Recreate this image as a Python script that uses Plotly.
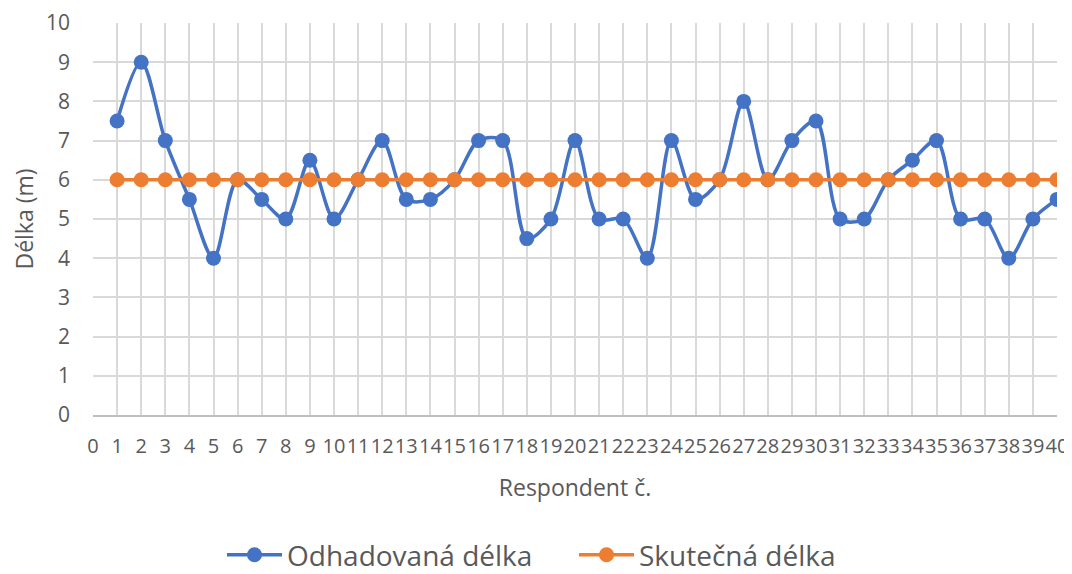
import plotly.graph_objects as go

respondents = list(range(1, 41))
odhadovana = [7.5, 9, 7, 5.5, 4, 6, 5.5, 5, 6.5, 5,
              6, 7, 5.5, 5.5, 6, 7, 7, 4.5, 5, 7,
              5, 5, 4, 7, 5.5, 6, 8, 6, 7, 7.5,
              5, 5, 6, 6.5, 7, 5, 5, 4, 5, 5.5]
skutecna = [6] * 40

fig = go.Figure()
fig.add_trace(go.Scatter(
    x=respondents, y=odhadovana, name="Odhadovaná délka",
    mode="lines+markers",
    line=dict(color="#4472C4", width=3.5, shape="spline", smoothing=0.9),
    marker=dict(color="#4472C4", size=15),
))
fig.add_trace(go.Scatter(
    x=respondents, y=skutecna, name="Skutečná délka",
    mode="lines+markers",
    line=dict(color="#ED7D31", width=3.5),
    marker=dict(color="#ED7D31", size=15),
))

fig.update_layout(
    width=1072, height=574,
    margin=dict(l=85, r=23, t=15, b=167),
    paper_bgcolor="white", plot_bgcolor="white",
    font=dict(family="Open Sans, Liberation Sans, sans-serif", color="#595959"),
    legend=dict(orientation="h", xref="container", yref="container",
                x=566 / 1072, xanchor="center", y=1 - 547 / 574, yanchor="middle",
                font=dict(size=28, color="#595959"), itemwidth=55,
                entrywidth=282, entrywidthmode="pixels",
                traceorder="normal"),
    showlegend=True,
)
fig.update_xaxes(
    range=[0, 40], tickmode="linear", tick0=0, dtick=1, tickangle=0,
    automargin=False,
    showgrid=True, gridcolor="#d9d9d9", gridwidth=1.5,
    showline=True, linecolor="#bfbfbf", linewidth=1.5,
    zeroline=False, ticks="", ticklabelstandoff=12,
    tickfont=dict(size=20, color="#595959"),
    title=dict(text="Respondent č.", font=dict(size=23, color="#595959"), standoff=22),
)
fig.update_yaxes(
    range=[0, 10], tickmode="linear", tick0=0, dtick=1,
    automargin=False,
    showgrid=True, gridcolor="#d9d9d9", gridwidth=1.5,
    zeroline=False, showline=False, ticks="", ticklabelstandoff=22,
    tickfont=dict(size=21, color="#595959"),
    title=dict(text="Délka (m)", font=dict(size=23, color="#595959"), standoff=14),
)

fig.write_html("out.html")
